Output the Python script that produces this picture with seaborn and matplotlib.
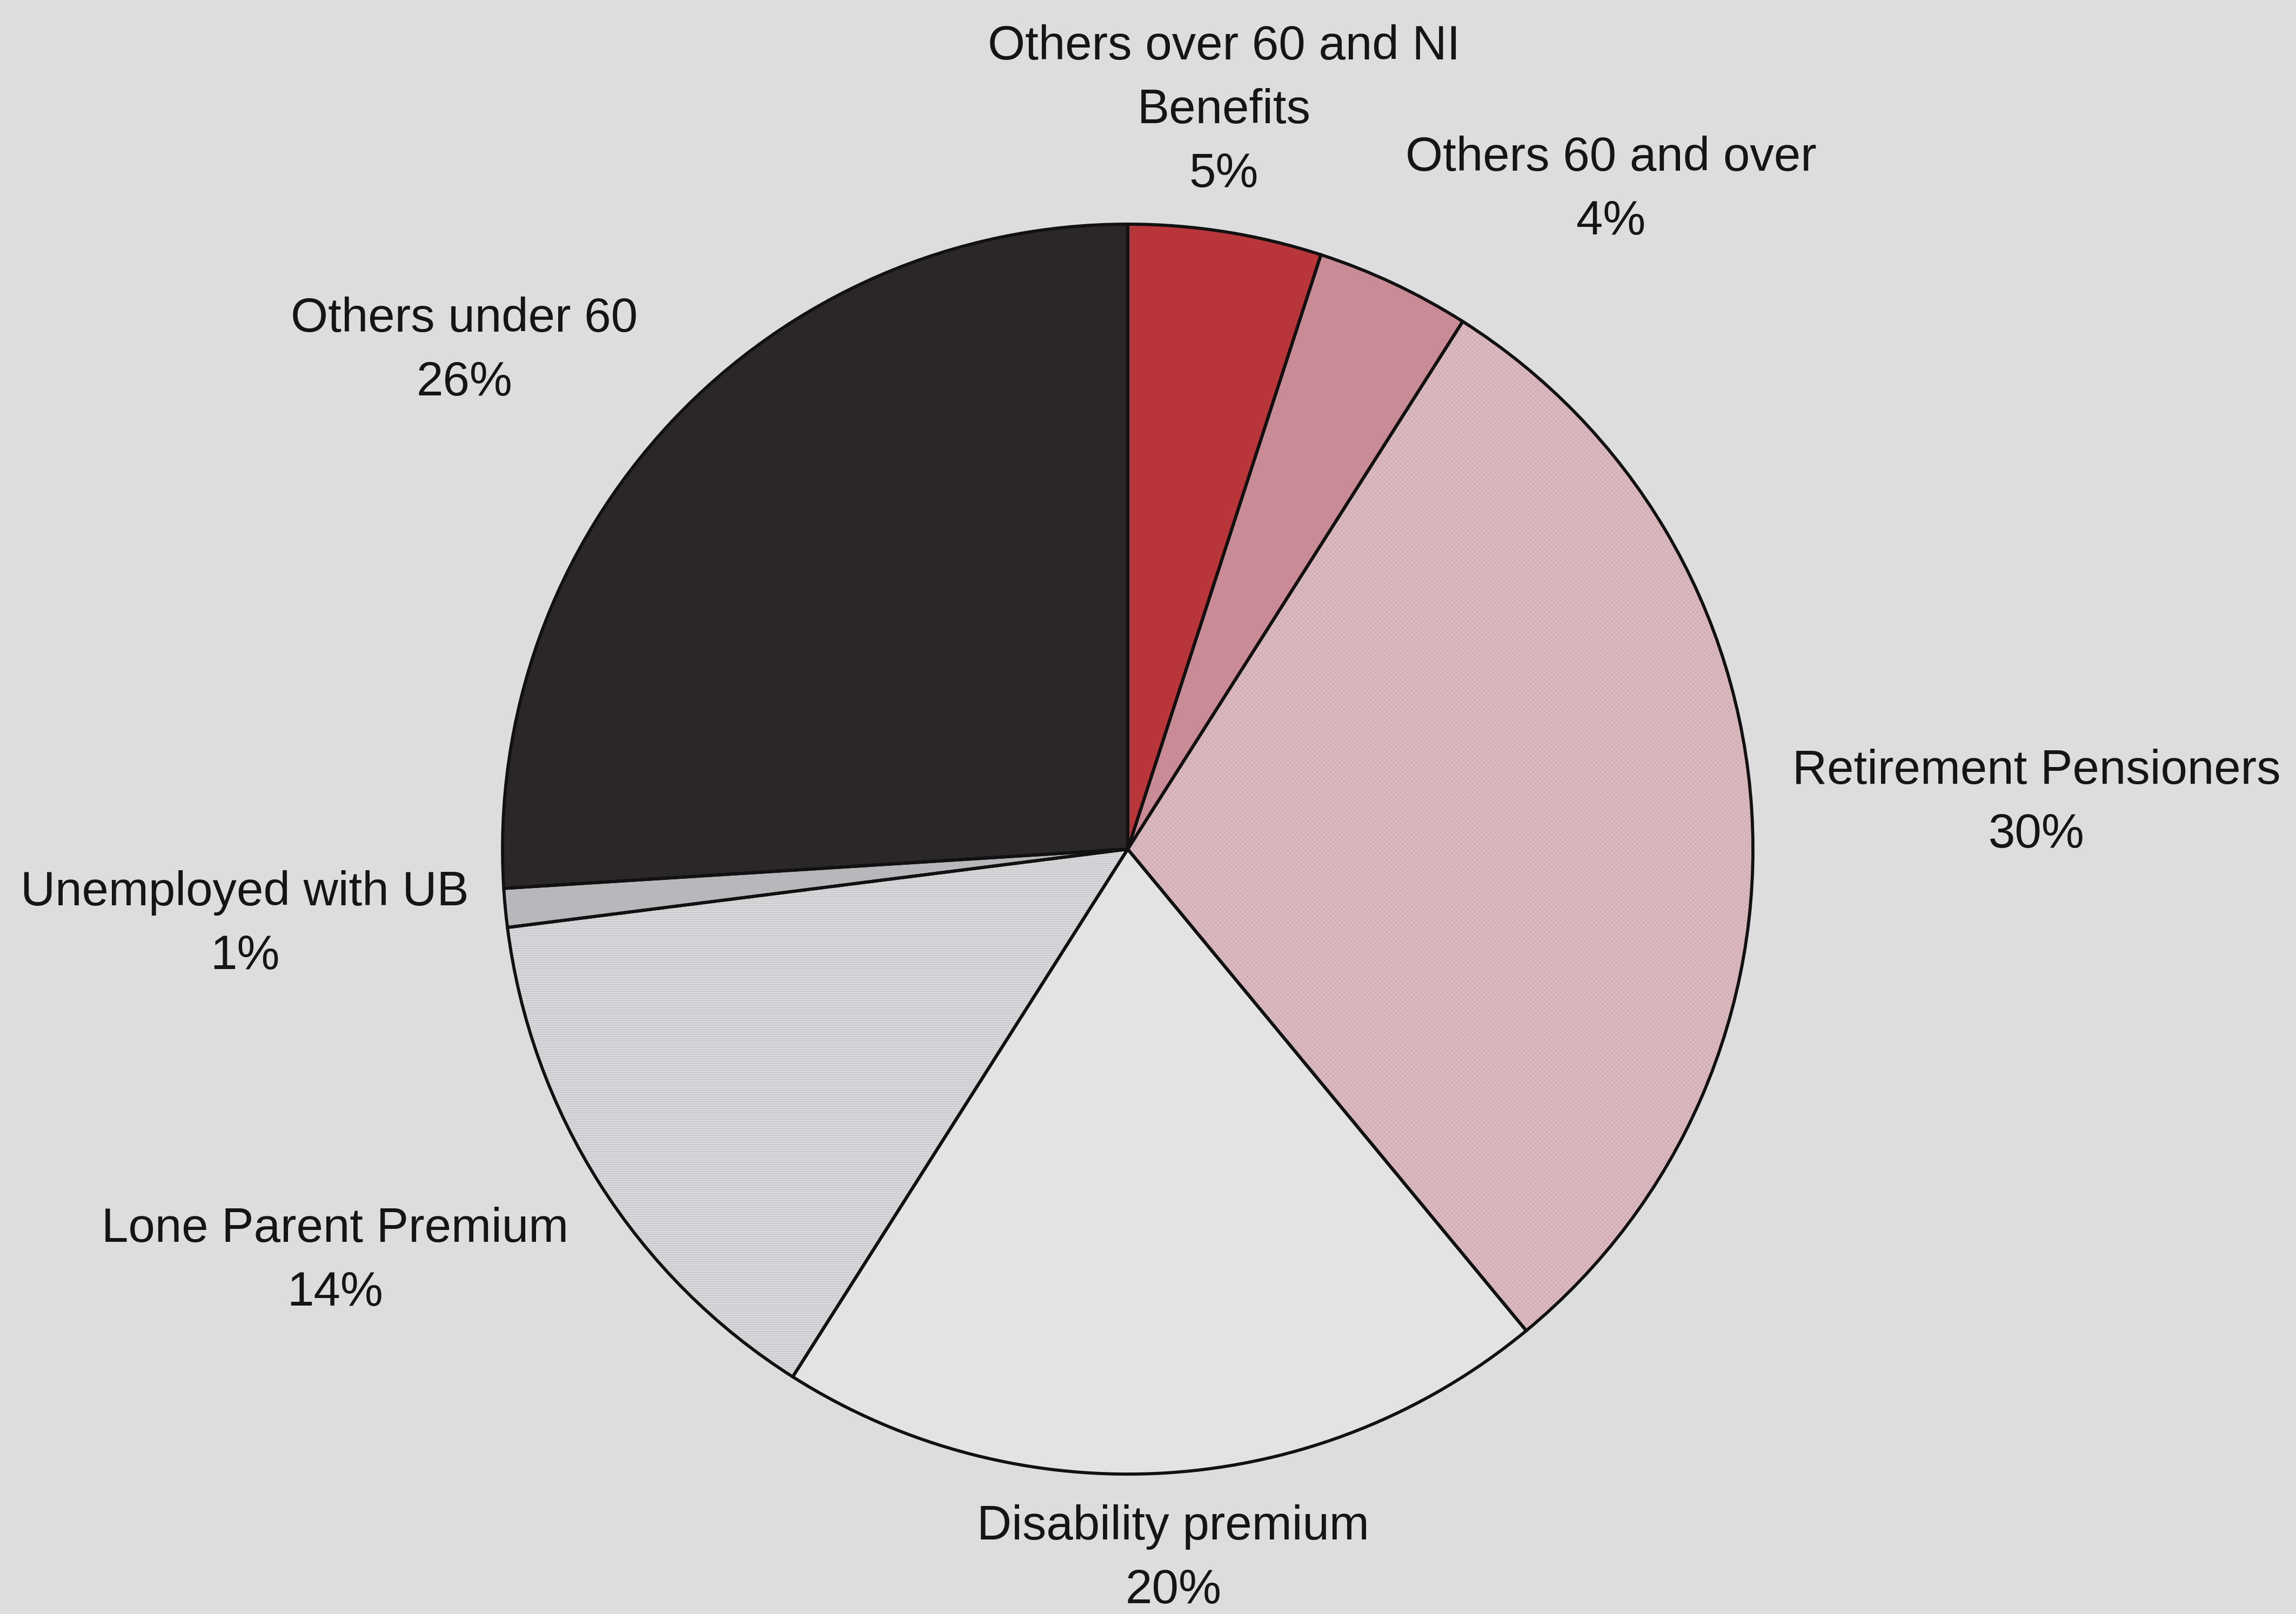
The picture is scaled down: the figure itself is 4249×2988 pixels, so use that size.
import matplotlib
matplotlib.use("Agg")
import matplotlib.pyplot as plt
import seaborn as sns

# Share of recipients by client group (percent)
groups = [
    "Others over 60 and NI\nBenefits",
    "Others 60 and over",
    "Retirement Pensioners",
    "Disability premium",
    "Lone Parent Premium",
    "Unemployed with UB",
    "Others under 60",
]
shares = [5, 4, 30, 20, 14, 1, 26]

slice_colors = ["#b8363a", "#c98b96", "#dcbcc2", "#e3e3e6", "#dadadd", "#b8b8bc", "#2b2628"]
slice_hatches = [None, None, "xxxx", None, "----", None, None]
hatch_colors = [None, None, "#d0acb2", None, "#c4c4c8", None, None]

# Label anchor points in pixels from the top-left corner of the page
label_xy = [
    (2265, 87),
    (2981, 293),
    (3769, 1428),
    (2171, 2827),
    (620, 2276),
    (453, 1653),
    (859, 591),
]
line_step = 118

W, H = 4249, 2988
bg = "#dddddf"

sns.set_theme(style="white")
plt.rcParams["font.family"] = ["Liberation Sans", "DejaVu Sans"]

fig = plt.figure(figsize=(W / 100, H / 100), dpi=100, facecolor=bg)
ax = fig.add_axes([0, 0, 1, 1])
ax.set_facecolor(bg)

center = (2087, H - 1572)
radius = 1157

wedges, _ = ax.pie(
    shares,
    colors=slice_colors,
    startangle=90,
    counterclock=False,
    center=center,
    radius=radius,
    frame=True,
    wedgeprops=dict(linewidth=0),
)

# Texture overlays for the patterned slices
overlay, _ = ax.pie(
    shares,
    colors=["none"] * len(shares),
    startangle=90,
    counterclock=False,
    center=center,
    radius=radius,
    frame=True,
    wedgeprops=dict(linewidth=0),
)
for w, h, hc in zip(overlay, slice_hatches, hatch_colors):
    if h is None:
        w.set_visible(False)
        continue
    w.set_hatch(h)
    w.set_edgecolor(hc)
    w.set_linewidth(0)
    w.set_zorder(wedges[0].get_zorder() + 0.1)

# Slice outlines drawn on top of the textures
outline, _ = ax.pie(
    shares,
    colors=["none"] * len(shares),
    startangle=90,
    counterclock=False,
    center=center,
    radius=radius,
    frame=True,
    wedgeprops=dict(edgecolor="#111111", linewidth=4.2, facecolor="none"),
)
for w in outline:
    w.set_zorder(wedges[0].get_zorder() + 0.2)

for name, val, (x, y) in zip(groups, shares, label_xy):
    lines = name.split("\n") + [f"{val}%"]
    for i, line in enumerate(lines):
        ax.text(x, H - (y + i * line_step), line, ha="center", va="center",
                fontsize=64, color="#151515")

ax.set_xlim(0, W)
ax.set_ylim(0, H)
ax.set_aspect("equal")
ax.axis("off")

fig.savefig("out.png", dpi=100, facecolor=bg)
